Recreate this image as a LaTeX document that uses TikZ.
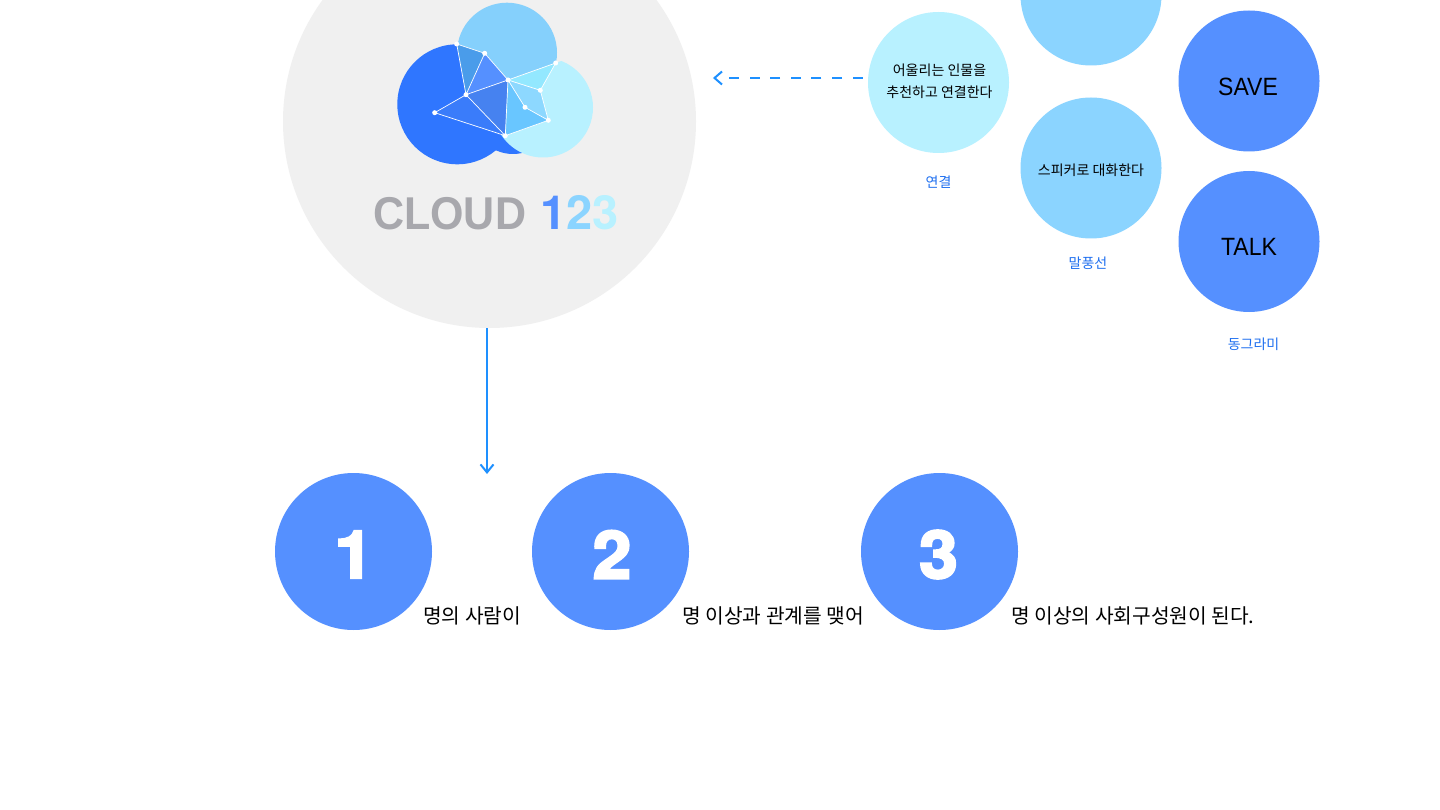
\documentclass[tikz,border=0pt]{standalone}
\usepackage{fontspec}
\setmainfont{Liberation Sans}
\newfontfamily\krfont{Noto Sans CJK KR}
\newfontfamily\logofont{TeX Gyre Heros Bold}
\newfontfamily\heavyfont[FakeBold=3.5]{TeX Gyre Heros Bold}
\usetikzlibrary{arrows.meta}
\definecolor{greybg}{HTML}{F0F0F0}
\definecolor{deepblue}{HTML}{2F76FF}
\definecolor{midblue}{HTML}{5590FF}
\definecolor{skyblue}{HTML}{8BD4FF}
\definecolor{logosky}{HTML}{85D0FC}
\definecolor{paleblue}{HTML}{B8F1FF}
\definecolor{linkblue}{HTML}{1E90FF}
\definecolor{labelblue}{HTML}{1E6FF0}
\definecolor{logogrey}{HTML}{A8A8AD}
\definecolor{meshA}{HTML}{4A9CEA}
\definecolor{meshB}{HTML}{5590FF}
\definecolor{meshC}{HTML}{4682F0}
\definecolor{meshD}{HTML}{3A7CFA}
\definecolor{meshE}{HTML}{69C6FF}
\definecolor{meshF}{HTML}{8DD8FF}
\definecolor{meshG}{HTML}{93E8FF}
\tikzset{
  disc/.style={circle,draw=none,inner sep=0pt,minimum size=#1},
  caplabel/.style={font=\krfont\fontsize{14}{14}\selectfont,text=labelblue,inner sep=0pt},
  bodylabel/.style={font=\krfont\fontsize{14}{14}\selectfont,text=black,inner sep=0pt},
  wordlabel/.style={font=\fontsize{25}{25}\selectfont,text=black,inner sep=0pt},
  numlabel/.style={font=\heavyfont\fontsize{66}{66}\selectfont,text=white,inner sep=0pt},
  sentlabel/.style={font=\krfont\fontsize{20.3}{20.3}\selectfont,text=black,inner sep=0pt,anchor=west},
  logolabel/.style={font=\bfseries\fontsize{46}{46}\selectfont,inner sep=0pt,anchor=base west},
  logodigit/.style={font=\logofont\fontsize{47}{47}\selectfont,inner sep=0pt,anchor=base west},
  linkline/.style={draw=linkblue,line width=2pt},
  barbed/.style={linkline,-{Straight Barb[length=8pt,width=13pt,line width=2pt]}},
  meshline/.style={white,line width=0.7pt},
  dotnode/.style={circle,fill=white,draw=none,inner sep=0pt,minimum size=5pt}
}
\begin{document}
\begin{tikzpicture}[x=1pt,y=-1pt]
\useasboundingbox (0,0) rectangle (1440,810);
\clip (0,0) rectangle (1440,810);
\fill[white] (0,0) rectangle (1440,810);
\node[disc=413pt,fill=greybg] (hub) at (489.5,121.5) {};
% logo
\coordinate (A) at (456.7,44);
\coordinate (B) at (484.7,53.3);
\coordinate (C) at (508,80);
\coordinate (D) at (466,94.7);
\coordinate (E) at (434.7,112.7);
\coordinate (F) at (505.3,135.7);
\coordinate (G) at (555.7,63);
\coordinate (H) at (540.3,90.3);
\coordinate (I) at (525,107.3);
\coordinate (J) at (548.3,120.3);
\fill[deepblue] (457.3,104.3) circle (60);
\fill[deepblue] (513,113) circle (41);
\begin{scope}
  \clip (508,80) -- (600,47.2) -- (600,170) -- (480,170) -- (480,80) -- cycle;
  \fill[paleblue] (543,107.5) circle (50);
\end{scope}
\begin{scope}
  \clip (440,-5) -- (570,-5) -- (570,58) -- (G) -- (C) -- (B) -- (A) -- (440,38) -- cycle;
  \fill[logosky] (507,52.7) circle (50);
\end{scope}
\fill[meshA] (A) -- (B) -- (D) -- cycle;
\fill[meshB] (B) -- (C) -- (D) -- cycle;
\fill[meshC] (C) -- (D) -- (F) -- cycle;
\fill[meshD] (D) -- (E) -- (F) -- cycle;
\fill[meshE] (C) -- (I) -- (J) -- (F) -- cycle;
\fill[meshF] (C) -- (H) -- (J) -- (I) -- cycle;
\fill[meshG] (C) -- (G) -- (H) -- cycle;
\draw[meshline] (A) -- (B) -- (C) -- (G) -- (H) -- (J) -- (F) -- (E) -- (D) -- (A);
\draw[meshline] (B) -- (D) -- (C) -- (F) -- (D);
\draw[meshline] (C) -- (H);
\draw[meshline] (C) -- (I) -- (J);
\foreach \p in {A,B,C,D,E,F,G,H,I,J} \node[dotnode] (dot\p) at (\p) {};
\node[logolabel,text=logogrey] (logoword) at (373,230) {\scalebox{.935}[1]{CLOUD}};
\node[logodigit] (logonum) at (540,230) {\textcolor{midblue}{1}\textcolor{skyblue}{2}\textcolor{paleblue}{3}};
% right discs
\node[disc=141pt,fill=paleblue] (link) at (938.5,82.5) {};
\node[disc=141pt,fill=skyblue] (topbubble) at (1091,-5) {};
\node[disc=141pt,fill=skyblue] (bubble) at (1091,168) {};
\node[disc=141pt,fill=midblue] (save) at (1249,81) {};
\node[disc=141pt,fill=midblue] (talk) at (1249,241.5) {};
\node[bodylabel] (l1) at (939.5,70.2) {어울리는 인물을};
\node[bodylabel] (l2) at (939.5,92.7) {추천하고 연결한다};
\node[bodylabel] (l3) at (1091,170.2) {스피커로 대화한다};
\node[wordlabel] (savet) at (1248,86.5) {\scalebox{.92}[1]{SAVE}};
\node[wordlabel] (talkt) at (1249,247) {\scalebox{.92}[1]{TALK}};
\node[caplabel] (c1) at (938.5,182.2) {연결};
\node[caplabel] (c2) at (1088,263.2) {말풍선};
\node[caplabel] (c3) at (1253.5,344.2) {동그라미};
% connectors
\coordinate (dashend) at (714.5,78);
\coordinate (downend) at (487,474);
\draw[linkline,dash pattern=on 10pt off 10.6pt,shorten <=5.2pt,shorten >=14.8pt] (link.west |- dashend) -- (dashend);
\draw[linkline] (dashend) ++(7.5,-6.5) -- (dashend) -- ++(7.5,6.5);
\draw[barbed] (downend |- hub.south) -- (downend);
% lower discs
\node[disc=157pt,fill=midblue] (one) at (353.5,551.5) {};
\node[disc=157pt,fill=midblue] (two) at (610.5,551.5) {};
\node[disc=157pt,fill=midblue] (three) at (939.5,551.5) {};
\node[numlabel] (n1) at (354,554.5) {\scalebox{1.05}[1]{1}};
\node[numlabel] (n2) at (612,554.5) {\scalebox{1.05}[1]{2}};
\node[numlabel] (n3) at (938.5,554.5) {\scalebox{1.05}[1]{3}};
\node[sentlabel] (s1) at (423,615.8) {명의 사람이};
\node[sentlabel] (s2) at (682,615.8) {명 이상과 관계를 맺어};
\node[sentlabel] (s3) at (1011,615.8) {명 이상의 사회구성원이 된다.};
\end{tikzpicture}
\end{document}
